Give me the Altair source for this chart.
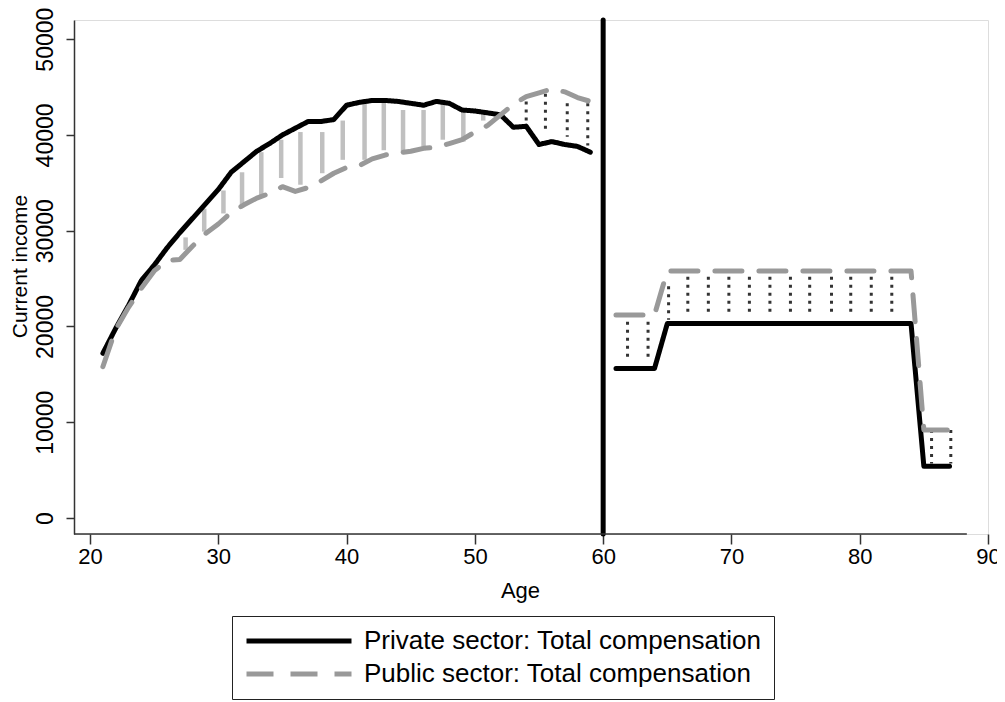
import altair as alt
import pandas as pd

PRIV = "Private sector: Total compensation"
PUB = "Public sector: Total compensation"

# ---- line data ----
ages_left = [21, 22, 23, 24, 25, 26, 27, 28, 29, 30, 31, 32, 33, 34, 35, 36, 37, 38, 39, 40,
             41, 42, 43, 44, 45, 46, 47, 48, 49, 50, 51, 52, 53, 54, 55, 56, 57, 58, 59]
private_left = [17200, 19800, 22200, 24800, 26400, 28200, 29800, 31300, 32800, 34300,
                36100, 37200, 38300, 39100, 40000, 40700, 41400, 41400, 41600, 43100,
                43400, 43600, 43600, 43500, 43300, 43100, 43500, 43300, 42600, 42500,
                42300, 42100, 40800, 40900, 39000, 39300, 39000, 38800, 38200]
public_left = [15800, 19700, 22000, 24000, 25800, 26900, 27000, 28400, 29700, 30700,
               31900, 32700, 33400, 33900, 34600, 34100, 34500, 35200, 36000, 36600,
               36800, 37500, 37900, 38100, 38300, 38600, 38700, 39100, 39500, 40300,
               41000, 42100, 43200, 44000, 44400, 44800, 44500, 43900, 43500]

ages_right = [61, 62, 63, 64, 65, 66, 67, 68, 69, 70, 71, 72, 73, 74, 75, 76, 77, 78, 79, 80,
              81, 82, 83, 84, 85, 86, 87]
private_right = [15600, 15600, 15600, 15600, 20300, 20300, 20300, 20300, 20300, 20300,
                 20300, 20300, 20300, 20300, 20300, 20300, 20300, 20300, 20300, 20300,
                 20300, 20300, 20300, 20300, 5400, 5400, 5400]
public_right = [21200, 21200, 21200, 21200, 25800, 25800, 25800, 25800, 25800, 25800,
                25800, 25800, 25800, 25800, 25800, 25800, 25800, 25800, 25800, 25800,
                25800, 25800, 25800, 25800, 9200, 9200, 9200]

# ---- spikes: private above public (light grey, solid) ----
light_age = [27.45, 28.9, 30.4, 31.85, 33.35, 34.9, 36.4, 38.1, 39.7, 41.4, 42.9, 44.4,
             46.0, 47.5, 49.1, 50.65]
light_hi = [29300, 32300, 34200, 36100, 38200, 39500, 40300, 40300, 41500, 43300, 43400,
            42600, 42600, 43400, 42400, 42600]
light_lo = [28000, 29900, 31800, 32700, 33500, 35500, 34800, 36000, 37400, 37400, 38400,
            38100, 38400, 39500, 39300, 41500]

# ---- spikes: public above private (dark, dotted) ----
dark_age = [54.0, 55.5, 57.2, 58.8, 61.9, 63.5, 65.1, 66.6, 68.2, 69.8, 71.4, 73.0, 74.6,
            76.1, 77.8, 79.3, 80.9, 82.5, 85.6, 87.1]
dark_hi = [43500, 44300, 43300, 43300, 20500, 20500, 24200, 25200, 25200, 25200, 25200,
           25200, 25200, 25200, 25200, 25200, 25200, 25200, 9200, 9200]
dark_lo = [41400, 40200, 39800, 38900, 16500, 16500, 20700, 21400, 21400, 21400, 21400,
           21400, 21400, 21400, 21400, 21400, 21400, 21400, 5700, 5700]

# retirement-age marker and axis extents
marker_age = [60]
y_range = [-1670, 52000]
x_range = [18.75, 90]
x_axis_line = [18.75, 88.35]
x_ticks = [20, 30, 40, 50, 60, 70, 80, 90]
y_ticks = [0, 10000, 20000, 30000, 40000, 50000]

FONT = "Liberation Sans"

rows = []
for seg, ages, priv, pub in [("L", ages_left, private_left, public_left),
                             ("R", ages_right, private_right, public_right)]:
    for a, v in zip(ages, priv):
        rows.append({"age": a, "value": v, "series": PRIV, "seg": seg})
    for a, v in zip(ages, pub):
        rows.append({"age": a, "value": v, "series": PUB, "seg": seg})
lines_df = pd.DataFrame(rows)

light_df = pd.DataFrame({"age": light_age, "hi": light_hi, "lo": light_lo})
dark_df = pd.DataFrame({"age": dark_age, "hi": dark_hi, "lo": dark_lo})
vline_df = pd.DataFrame({"age": marker_age, "hi": [y_range[1]], "lo": [y_range[0]]})
xline_df = pd.DataFrame({"a1": [x_axis_line[0]], "a2": [x_axis_line[1]], "v": [y_range[0]]})

xscale = alt.Scale(domain=x_range, nice=False, zero=False)
yscale = alt.Scale(domain=y_range, nice=False, zero=False)

xaxis = alt.Axis(values=x_ticks, title="Age", domain=False, grid=False,
                 labelFontSize=22, titleFontSize=22, labelFont=FONT, titleFont=FONT,
                 labelColor="black", titleColor="black", titleFontWeight="normal",
                 tickSize=10, tickWidth=1.5, tickColor="#333333", labelPadding=2,
                 labelFlush=False, labelOverlap=False,
                 titleX=446, titleY=63, titleBaseline="alphabetic", titleAlign="center")
yaxis = alt.Axis(values=y_ticks, title="Current income", format="d", grid=False,
                 labelFontSize=23, titleFontSize=21, labelFont=FONT, titleFont=FONT,
                 labelColor="black", titleColor="black", titleFontWeight="normal",
                 labelAngle=270, labelAlign="center", labelBaseline="bottom",
                 tickSize=8, tickWidth=1.5, tickColor="#333333", labelPadding=9,
                 domainColor="#333333", domainWidth=1.5, labelFlush=False,
                 labelOverlap=False, titleAngle=270, titleAlign="center",
                 titleBaseline="alphabetic", titleX=-48, titleY=246)


def X(field):
    return alt.X(field, type="quantitative", scale=xscale, axis=xaxis)


def Y(field):
    return alt.Y(field, type="quantitative", scale=yscale, axis=yaxis)


legend = alt.Legend(title=None, orient="none", legendX=158, legendY=596,
                    direction="vertical", symbolType="stroke", symbolSize=11025,
                    symbolStrokeWidth=5, labelFontSize=26, labelFont=FONT,
                    labelColor="black", strokeColor="#222222", fillColor="white",
                    padding=12, rowPadding=7, clipHeight=26, labelOffset=10,
                    labelLimit=0)

color = alt.Color("series:N", scale=alt.Scale(domain=[PRIV, PUB], range=["#000000", "#999999"]),
                  legend=legend)
dash = alt.StrokeDash("series:N", scale=alt.Scale(domain=[PRIV, PUB], range=[[1, 0], [27, 17]]),
                      legend=legend)

light = alt.Chart(light_df).mark_rule(color="#c0c0c0", strokeWidth=4.5).encode(
    x=X("age"), y=Y("hi"), y2="lo")
dark = alt.Chart(dark_df).mark_rule(color="#333333", strokeWidth=3,
                                    strokeDash=[3, 5]).encode(
    x=X("age"), y=Y("hi"), y2="lo")

base = alt.Chart(lines_df).mark_line(strokeWidth=5, strokeCap="round", strokeJoin="round").encode(
    x=X("age"), y=Y("value"), color=color, strokeDash=dash, detail="seg:N")
priv_line = base.transform_filter(alt.datum.series == PRIV)
pub_line = base.transform_filter(alt.datum.series == PUB)

vline = alt.Chart(vline_df).mark_rule(color="black", strokeWidth=5, strokeCap="round").encode(
    x=X("age"), y=Y("hi"), y2="lo")
xline = alt.Chart(xline_df).mark_rule(color="#333333", strokeWidth=1.5).encode(
    x=X("a1"), x2="a2", y=Y("v"))

chart = alt.layer(light, dark, priv_line, pub_line, vline, xline).properties(
    width=914, height=514,
    autosize=alt.AutoSizeParams(type="none"),
    padding={"left": 66, "top": 12, "right": 9, "bottom": 166},
).configure_view(stroke=None).configure(background="white")

chart.save("out.html", embed_options={"renderer": "svg", "actions": False})
